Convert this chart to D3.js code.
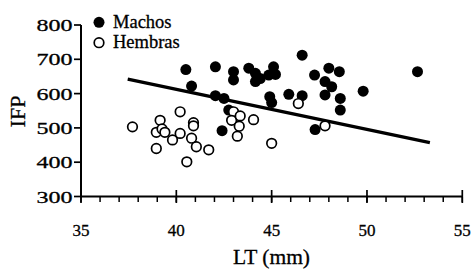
<!DOCTYPE html>
<html>
<head>
<meta charset="utf-8">
<script src="https://cdn.jsdelivr.net/npm/d3@7/dist/d3.min.js"></script>
<style>
  html, body { margin: 0; padding: 0; background: #fff; }
  svg { display: block; }
  text { font-family: "Liberation Serif", "Times New Roman", serif; fill: #000; stroke: #000; stroke-width: 0.3; }
</style>
</head>
<body>
<svg id="chart" width="473" height="269"></svg>
<script>
// ---- data ----
const machosLT  = [40.5, 40.8, 42.05, 43.0, 43.0, 43.8, 44.15, 44.4, 44.15, 44.85, 45.1, 45.2, 42.05, 42.5, 42.75, 42.4, 44.9, 45.0, 45.9, 46.6, 46.6, 47.25, 48.0, 48.55, 47.8, 48.15, 47.8, 48.6, 48.6, 49.8, 52.65, 47.28];
const machosIFP = [670, 622, 678, 664, 640, 674, 659, 644, 635, 654, 678, 656, 594, 586, 552, 492, 591, 574, 598, 594, 712, 654, 674, 664, 635, 620, 596, 586, 552, 607, 664, 495];
const hembrasLT  = [37.7, 39.15, 40.2, 40.9, 38.95, 39.25, 39.4, 39.8, 40.2, 40.9, 40.8, 41.05, 38.95, 40.55, 41.7, 43.2, 43.0, 42.9, 43.35, 43.3, 44.05, 45.0, 46.4, 47.8];
const hembrasIFP = [503, 522, 547, 515, 487, 497, 487, 465, 484, 506, 470, 445, 440, 401, 436, 476, 547, 522, 535, 505, 524, 455, 571, 506];
const fitLT  = [37.45, 53.3];
const fitIFP = [642, 457];
const xTicks = [35, 40, 45, 50, 55];
const xMinor = d3.range(35, 56, 1);
const yTicks = [300, 400, 500, 600, 700, 800];
const legendLabels = ["Machos", "Hembras"];

// ---- layout ----
const svg = d3.select("#chart");
const x = d3.scaleLinear().domain([35, 55]).range([81, 462.3]);
const y = d3.scaleLinear().domain([300, 800]).range([196.5, 25]);

// regression line
svg.append("line")
  .attr("x1", x(fitLT[0])).attr("y1", y(fitIFP[0]))
  .attr("x2", x(fitLT[1])).attr("y2", y(fitIFP[1]))
  .attr("stroke", "#000").attr("stroke-width", 3.3);

// machos (filled)
svg.append("g").selectAll("circle")
  .data(machosLT.map((d, i) => [d, machosIFP[i]]))
  .join("circle")
  .attr("cx", d => x(d[0])).attr("cy", d => y(d[1]))
  .attr("r", 5.5).attr("fill", "#000");

// hembras (open)
svg.append("g").selectAll("circle")
  .data(hembrasLT.map((d, i) => [d, hembrasIFP[i]]))
  .join("circle")
  .attr("cx", d => x(d[0])).attr("cy", d => y(d[1]))
  .attr("r", 4.8).attr("fill", "#fff").attr("stroke", "#000").attr("stroke-width", 1.7);

// x axis
const gx = svg.append("g");
gx.append("line").attr("x1", x(35)).attr("x2", x(55))
  .attr("y1", y(300)).attr("y2", y(300)).attr("stroke", "#000").attr("stroke-width", 2);
gx.selectAll("line.minor").data(xMinor).join("line").attr("class", "minor")
  .attr("x1", d => x(d)).attr("x2", d => x(d))
  .attr("y1", y(300)).attr("y2", y(300) + 5.5)
  .attr("stroke", "#000").attr("stroke-width", 1.5);
gx.selectAll("line.major").data(xTicks).join("line").attr("class", "major")
  .attr("x1", d => x(d)).attr("x2", d => x(d))
  .attr("y1", y(300) - 6.5).attr("y2", y(300) + 6.5)
  .attr("stroke", "#000").attr("stroke-width", 1.7);
gx.selectAll("text").data(xTicks).join("text")
  .attr("x", d => x(d)).attr("y", 236)
  .attr("text-anchor", "middle").attr("font-size", 17)
  .text(d => d);

// y axis
const gy = svg.append("g");
gy.append("line").attr("x1", x(35)).attr("x2", x(35))
  .attr("y1", y(300)).attr("y2", y(800)).attr("stroke", "#000").attr("stroke-width", 2);
gy.selectAll("line.tick").data(yTicks).join("line").attr("class", "tick")
  .attr("x1", x(35) - 7).attr("x2", x(35))
  .attr("y1", d => y(d)).attr("y2", d => y(d))
  .attr("stroke", "#000").attr("stroke-width", 1.7);
gy.selectAll("text").data(yTicks).join("text")
  .attr("x", 36.5).attr("y", d => y(d) + 6)
  .attr("font-size", 17)
  .attr("textLength", 36).attr("lengthAdjust", "spacingAndGlyphs")
  .text(d => d);

// axis titles
svg.append("text")
  .attr("transform", `translate(25,${111.5}) rotate(-90)`)
  .attr("text-anchor", "middle").attr("font-size", 22)
  .text("IFP");
svg.append("text")
  .attr("x", 271.5).attr("y", 264)
  .attr("text-anchor", "middle").attr("font-size", 21.5)
  .text("LT (mm)");

// legend
const lg = svg.append("g");
lg.append("circle").attr("cx", 99).attr("cy", 22.3).attr("r", 5.5).attr("fill", "#000");
lg.append("circle").attr("cx", 99).attr("cy", 42.7).attr("r", 4.8)
  .attr("fill", "#fff").attr("stroke", "#000").attr("stroke-width", 1.7);
lg.selectAll("text").data(legendLabels).join("text")
  .attr("x", 113).attr("y", (d, i) => 28 + i * 19.5)
  .attr("font-size", 18.5)
  .text(d => d);
</script>
</body>
</html>
